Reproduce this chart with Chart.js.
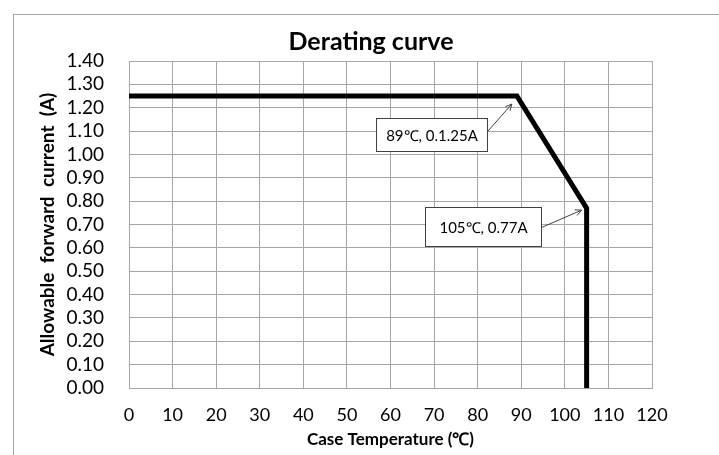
<!DOCTYPE html>
<html>
<head>
<meta charset="utf-8">
<script src="https://cdn.jsdelivr.net/npm/chart.js@4.4.0/dist/chart.umd.min.js"></script>
<style>
  html, body { margin: 0; padding: 0; background: #fff; overflow: hidden; }
  #wrap { position: relative; width: 719px; height: 455px; }
  #frame { position: absolute; left: 13px; top: 14px; width: 800px; height: 600px; border: 1px solid #a6a6a6; }
  canvas { position: absolute; left: 0; top: 0; }
</style>
</head>
<body>
<div id="wrap">
  <div id="frame"></div>
  <canvas id="chart" width="719" height="455"></canvas>
</div>
<script>
// Derating curve data
const temps = [0, 89, 105, 105];
const currents = [1.25, 1.25, 0.77, 0];
const xTicks = [0, 10, 20, 30, 40, 50, 60, 70, 80, 90, 100, 110, 120];
const yTicks = [0, 0.1, 0.2, 0.3, 0.4, 0.5, 0.6, 0.7, 0.8, 0.9, 1.0, 1.1, 1.2, 1.3, 1.4];

// Callout labels, pointing at curve points
const calloutText = ['89\u2103, 0.1.25A', '105\u2103, 0.77A'];
const calloutPoint = [1, 2];

const FONT = 'Lato, "Open Sans", sans-serif';

// box offsets from the anchor point (pixels)
const calloutStyle = [
  { dx: -141, dy: 22, w: 111, h: 33, ay: 13, tx: -5, ty: 8 },
  { dx: -162, dy: -1, w: 116, h: 39, ay: 20, tx: -5, ty: 2 }
];

const decorations = {
  id: 'decorations',
  afterDraw(chart) {
    const ctx = chart.ctx;
    const xs = chart.scales.x, ys = chart.scales.y;

    // title
    ctx.save();
    ctx.fillStyle = '#000';
    ctx.font = 'bold 25px ' + FONT;
    ctx.textAlign = 'center';
    ctx.textBaseline = 'middle';
    ctx.fillText('Derating curve', 371, 42);
    ctx.restore();

    calloutText.forEach((txt, i) => {
      const idx = calloutPoint[i];
      const px = xs.getPixelForValue(temps[idx]);
      const py = ys.getPixelForValue(currents[idx]);
      const s = calloutStyle[i];
      const bx = Math.round(px + s.dx) + 0.5;
      const by = Math.round(py + s.dy) + 0.5;

      ctx.save();
      ctx.fillStyle = '#fff';
      ctx.strokeStyle = '#404040';
      ctx.lineWidth = 1;
      ctx.fillRect(bx, by, s.w, s.h);
      ctx.strokeRect(bx, by, s.w, s.h);

      ctx.fillStyle = '#000';
      ctx.font = '15px ' + FONT;
      ctx.textAlign = 'center';
      ctx.textBaseline = 'middle';
      ctx.fillText(txt, bx + s.w / 2, by + s.h / 2 + 1);

      // arrow
      const x0 = bx + s.w, y0 = by + s.ay;
      const x1 = px + s.tx, y1 = py + s.ty;
      ctx.strokeStyle = '#404040';
      ctx.beginPath();
      ctx.moveTo(x0, y0);
      ctx.lineTo(x1, y1);
      ctx.stroke();
      const ang = Math.atan2(y1 - y0, x1 - x0);
      const hl = 7;
      ctx.beginPath();
      ctx.moveTo(x1 - hl * Math.cos(ang - 0.45), y1 - hl * Math.sin(ang - 0.45));
      ctx.lineTo(x1, y1);
      ctx.lineTo(x1 - hl * Math.cos(ang + 0.45), y1 - hl * Math.sin(ang + 0.45));
      ctx.stroke();
      ctx.restore();
    });
  }
};

new Chart(document.getElementById('chart').getContext('2d'), {
  type: 'scatter',
  data: {
    datasets: [{
      data: temps.map((t, i) => ({ x: t, y: currents[i] })),
      showLine: true,
      borderColor: '#000',
      borderWidth: 5,
      borderJoinStyle: 'miter',
      pointRadius: 0,
      fill: false
    }]
  },
  options: {
    responsive: false,
    animation: false,
    devicePixelRatio: 1,
    layout: { padding: { left: 0, right: 67, top: 61, bottom: 0 } },
    plugins: {
      legend: { display: false },
      tooltip: { enabled: false }
    },
    scales: {
      x: {
        type: 'linear',
        min: 0,
        max: 120,
        afterFit(scale) { scale.height = 67; },
        afterBuildTicks(scale) { scale.ticks = xTicks.map(v => ({ value: v })); },
        grid: { color: '#a6a6a6', drawTicks: false },
        border: { color: '#a6a6a6' },
        ticks: {
          padding: 16,
          autoSkip: false,
          maxRotation: 0,
          color: '#000',
          font: { family: FONT, size: 18 },
          callback: v => String(v)
        },
        title: {
          display: true,
          text: 'Case Temperature (\u2103)',
          color: '#000',
          font: { family: FONT, size: 17, weight: 'bold' },
          padding: { top: 0, bottom: 5 }
        }
      },
      y: {
        min: 0,
        max: 1.4,
        afterFit(scale) { scale.width = 129; },
        afterBuildTicks(scale) { scale.ticks = yTicks.map(v => ({ value: v })); },
        grid: { color: '#a6a6a6', drawTicks: false },
        border: { color: '#a6a6a6' },
        ticks: {
          padding: 25,
          autoSkip: false,
          color: '#000',
          font: { family: FONT, size: 19 },
          callback: v => Number(v).toFixed(2)
        },
        title: {
          display: true,
          text: 'Allowable  forward  current  (A)',
          color: '#000',
          font: { family: FONT, size: 19, weight: 'bold' },
          padding: { top: 36, bottom: 0 }
        }
      }
    }
  },
  plugins: [decorations]
});
</script>
</body>
</html>
